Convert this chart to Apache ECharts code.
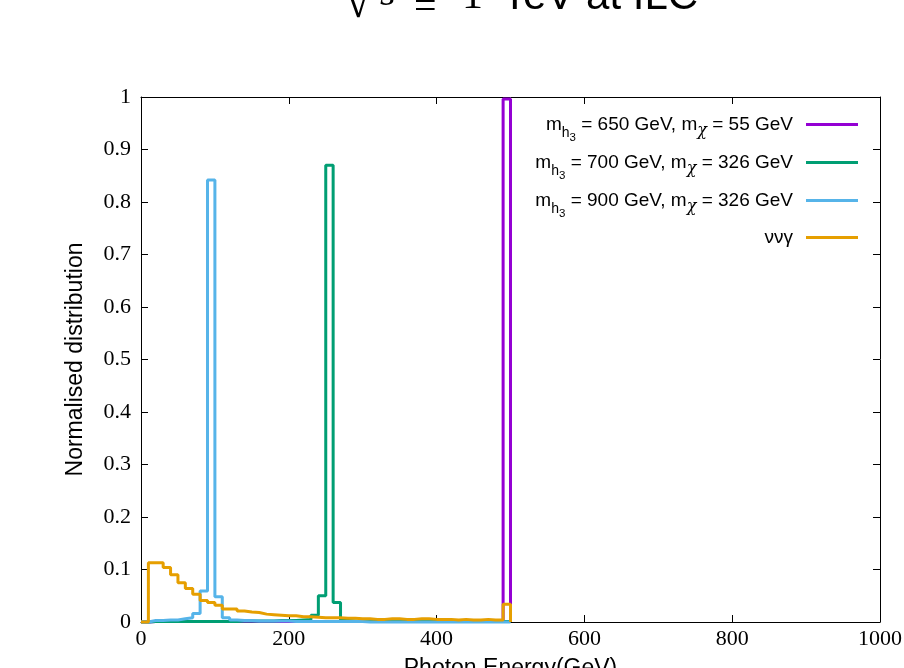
<!DOCTYPE html>
<html><head><meta charset="utf-8">
<script src="https://cdn.jsdelivr.net/npm/echarts@6/dist/echarts.min.js"></script>
<style>html,body{margin:0;padding:0;background:#fff}#c{width:904px;height:668px}</style>
</head><body><div id="c"></div>
<script>
// Bin width of the histograms (GeV); bin i spans [i*binWidth, (i+1)*binWidth]
const binWidth = 10;

const xTicks = [0, 200, 400, 600, 800, 1000];
const yTicks = [0, 0.1, 0.2, 0.3, 0.4, 0.5, 0.6, 0.7, 0.8, 0.9, 1];

const seriesNames = ['sig650', 'sig700', 'sig900', 'bkg'];

// m_h3 = 650 GeV, m_chi = 55 GeV
const sig650 = [
  0, 0.001, 0.001, 0.001, 0.001, 0.001, 0.001, 0.001, 0.001, 0.001,
  0.001, 0.001, 0.001, 0.001, 0.001, 0.001, 0.001, 0.001, 0.001, 0.001,
  0.001, 0.001, 0.001, 0.001, 0.001, 0.001, 0.001, 0.001, 0.001, 0.001,
  0.001, 0.001, 0.001, 0.001, 0.001, 0.001, 0.001, 0.001, 0.001, 0.001,
  0.001, 0.001, 0.001, 0.001, 0.001, 0.001, 0.001, 0.001, 0.001, 0.996
];
// m_h3 = 700 GeV, m_chi = 326 GeV
const sig700 = [
  0, 0.001, 0.001, 0.001, 0.001, 0.001, 0.001, 0.001, 0.001, 0.001,
  0.001, 0.001, 0.001, 0.002, 0.002, 0.002, 0.002, 0.002, 0.003, 0.003,
  0.003, 0.004, 0.005, 0.013, 0.050, 0.870, 0.037, 0.003, 0.002, 0.001,
  0.001, 0.001, 0.001, 0.001, 0.001, 0.001, 0.001, 0.001, 0.001, 0.001,
  0.001, 0.001, 0.001, 0.001, 0.001, 0.001, 0.001, 0.001, 0.001, 0.001
];
// m_h3 = 900 GeV, m_chi = 326 GeV
const sig900 = [
  0, 0.003, 0.003, 0.004, 0.004, 0.006, 0.008, 0.016, 0.059, 0.842,
  0.048, 0.008, 0.004, 0.003, 0.003, 0.002, 0.002, 0.002, 0.002, 0.002,
  0.001, 0.001, 0.001, 0.001, 0.001, 0.001, 0.001, 0.001, 0.001, 0.001,
  0, 0, 0, 0, 0, 0, 0, 0, 0, 0,
  0, 0, 0, 0, 0, 0, 0, 0, 0, 0
];
// nu nu gamma background
const bkg = [
  0, 0.113, 0.113, 0.104, 0.090, 0.075, 0.064, 0.053, 0.041, 0.037,
  0.032, 0.025, 0.025, 0.021, 0.019, 0.018, 0.015, 0.014, 0.013, 0.012,
  0.012, 0.010, 0.010, 0.009, 0.008, 0.008, 0.008, 0.007, 0.007, 0.006,
  0.006, 0.005, 0.005, 0.006, 0.006, 0.005, 0.005, 0.006, 0.006, 0.005,
  0.005, 0.005, 0.004, 0.005, 0.004, 0.004, 0.005, 0.004, 0.004, 0.034
];

const legendText = {
  sig650: '{t|m}{h|h}{n|3}{t| = 650 GeV, m}{c|χ}{e| = 55 GeV}',
  sig700: '{t|m}{h|h}{n|3}{t| = 700 GeV, m}{c|χ}{e| = 326 GeV}',
  sig900: '{t|m}{h|h}{n|3}{t| = 900 GeV, m}{c|χ}{e| = 326 GeV}',
  bkg: '{e|ννγ}'
};
const colors = ['#9400d3', '#009e73', '#56b4e9', '#e69f00'];
const values = [sig650, sig700, sig900, bkg];

function histSteps(vals) {
  const pts = vals.map((v, i) => [i * binWidth, v]);
  pts.push([vals.length * binWidth, 0]);
  return pts;
}

const chart = echarts.init(document.getElementById('c'), null, {renderer: 'canvas'});

const axisCommon = {
  type: 'value',
  axisLine: {show: true, onZero: false, lineStyle: {color: '#000', width: 1}},
  axisTick: {show: true, inside: true, length: 7, lineStyle: {color: '#000', width: 1}},
  splitLine: {show: false}
};

const SANS = 'Liberation Sans';
const rich = {
  t: {fontFamily: SANS, fontSize: 19, lineHeight: 20, color: '#000'},
  e: {fontFamily: SANS, fontSize: 19, lineHeight: 20, color: '#000', padding: [0, 8, 0, 0]},
  h: {fontFamily: SANS, fontSize: 14, lineHeight: 12, color: '#000', padding: [18, 0, 0, 0]},
  n: {fontFamily: SANS, fontSize: 11.5, lineHeight: 10, color: '#000', padding: [26, 0, 0, 0]},
  c: {fontFamily: 'DejaVu Serif', fontStyle: 'italic', fontSize: 16, lineHeight: 12, color: '#000', padding: [12, 0, 0, 0]}
};

const legendTops = [105.5, 143.5, 181.5, 228];
const legends = seriesNames.map((n, i) => ({
  orient: 'vertical',
  right: 46,
  top: legendTops[i],
  padding: 0,
  align: 'right',
  itemWidth: 52,
  itemHeight: 3,
  icon: 'rect',
  selectedMode: false,
  data: [n],
  formatter: name => legendText[name],
  textStyle: {color: '#000', fontFamily: SANS, fontSize: 19, rich: rich}
}));

function titleText(x, y, text, font) {
  return {type: 'text', x: x, y: y, style: {text: text, font: font, fill: '#000', verticalAlign: 'middle', textVerticalAlign: 'middle'}};
}

chart.setOption({
  animation: false,
  backgroundColor: '#fff',
  grid: {left: 141, right: 24, top: 97, bottom: 46, outerBoundsMode: 'none', containLabel: false},
  graphic: [
    titleText(345, 4.8, '√', '48px "Liberation Serif"'),
    titleText(380, -5.5, 's', 'italic 40px "Liberation Serif"'),
    titleText(414, 8.5, '=', '40px "Liberation Serif"'),
    titleText(462, -2.7, '1', '42px "Liberation Serif"'),
    titleText(502, -3, 'TeV at ILC', '42px "Liberation Sans"')
  ],
  legend: legends,
  xAxis: [
    Object.assign({}, axisCommon, {
      position: 'bottom', min: xTicks[0], max: xTicks[xTicks.length - 1], interval: xTicks[1] - xTicks[0],
      axisLabel: {fontFamily: 'Liberation Serif', fontSize: 22, color: '#000', margin: 6, formatter: v => String(v)},
      name: 'Photon Energy(GeV)', nameLocation: 'middle', nameGap: 35,
      nameTextStyle: {fontFamily: SANS, fontSize: 23, color: '#000'}
    }),
    Object.assign({}, axisCommon, {
      position: 'top', min: xTicks[0], max: xTicks[xTicks.length - 1], interval: xTicks[1] - xTicks[0],
      axisLabel: {show: false}
    })
  ],
  yAxis: [
    Object.assign({}, axisCommon, {
      position: 'left', min: yTicks[0], max: yTicks[yTicks.length - 1], interval: 0.1,
      axisLabel: {fontFamily: 'Liberation Serif', fontSize: 22, color: '#000', margin: 10, formatter: v => String(Math.round(v * 10) / 10)},
      name: 'Normalised distribution', nameLocation: 'middle', nameGap: 54,
      nameTextStyle: {fontFamily: SANS, fontSize: 23, color: '#000'}
    }),
    Object.assign({}, axisCommon, {
      position: 'right', min: yTicks[0], max: yTicks[yTicks.length - 1], interval: 0.1,
      axisLabel: {show: false}
    })
  ],
  series: seriesNames.map((n, i) => ({
    name: n,
    type: 'line',
    step: 'end',
    symbol: 'none',
    clip: false,
    xAxisIndex: 0,
    yAxisIndex: 0,
    color: colors[i],
    lineStyle: {color: colors[i], width: 3},
    z: 2 + i,
    data: histSteps(values[i])
  }))
});
</script>
</body></html>
